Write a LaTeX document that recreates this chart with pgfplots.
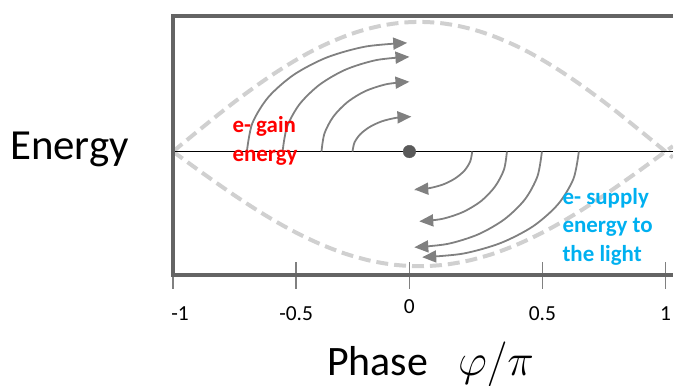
\RequirePackage{fix-cm}
\documentclass[border=0pt]{standalone}
\usepackage{pgfplots}
\pgfplotsset{compat=1.18}
\usetikzlibrary{arrows.meta}
\usepackage{fontspec}
\setmainfont{Carlito}
\definecolor{bordergray}{RGB}{100,100,100}
\definecolor{dashgray}{RGB}{208,208,208}
\definecolor{arrowgray}{RGB}{128,128,128}
\definecolor{dotgray}{RGB}{90,90,90}
\definecolor{lightblue}{RGB}{0,176,240}
\definecolor{pptred}{RGB}{255,0,0}
\begin{document}
\begin{tikzpicture}
\begin{axis}[
  at={(173.5pt,111pt)}, anchor=south west,
  scale only axis, width=501.5pt, height=260pt,
  xmin=-1, xmax=1.03036, ymin=-124, ymax=136,
  axis line style={draw=none},
  clip mode=individual,
  xtick={-1,-0.5,-0.04,0.5,1},
  xticklabels={\hspace*{14pt}-1,-0.5,\raisebox{7pt}{0},0.5,1},
  xtick pos=bottom, ytick=\empty,
  tick align=center, major tick length=27pt,
  xtick style={color=arrowgray, line width=1.3pt},
  xticklabel style={anchor=base, yshift=-32pt, font=\fontsize{21.5}{24}\selectfont},
  no marks,
]
% separatrix (upper)
\addplot[dashgray, line width=4pt, dash pattern=on 12pt off 6pt, smooth] coordinates {
(-1,0) (-0.95,10.2) (-0.9,20.3) (-0.85,30.3) (-0.8,40.2) (-0.75,49.8) (-0.7,59.0)
(-0.65,67.9) (-0.6,76.4) (-0.55,84.4) (-0.5,91.9) (-0.45,98.9) (-0.4,105.2)
(-0.35,110.8) (-0.3,115.8) (-0.25,120.1) (-0.2,123.6) (-0.15,126.4) (-0.1,128.4)
(-0.05,129.6) (0,130) (0.05,129.6) (0.1,128.4) (0.15,126.4) (0.2,123.6) (0.25,120.1)
(0.3,115.8) (0.35,110.8) (0.4,105.2) (0.45,98.9) (0.5,91.9) (0.55,84.4) (0.6,76.4)
(0.65,67.9) (0.7,59.0) (0.75,49.8) (0.8,40.2) (0.85,30.3) (0.9,20.3) (0.95,10.2)
(1,0) (1.03,-6.1)};
% separatrix (lower)
\addplot[dashgray, line width=4pt, dash pattern=on 12pt off 6pt, smooth] coordinates {
(-1,0) (-0.95,-9.0) (-0.9,-18.0) (-0.85,-26.8) (-0.8,-35.5) (-0.75,-44.0) (-0.7,-52.2)
(-0.65,-60.1) (-0.6,-67.6) (-0.55,-74.7) (-0.5,-81.3) (-0.45,-87.4) (-0.4,-93.0)
(-0.35,-98.0) (-0.3,-102.5) (-0.25,-106.2) (-0.2,-109.4) (-0.15,-111.8) (-0.1,-113.6)
(-0.05,-114.6) (0,-115) (0.05,-114.6) (0.1,-113.6) (0.15,-111.8) (0.2,-109.4) (0.25,-106.2)
(0.3,-102.5) (0.35,-98.0) (0.4,-93.0) (0.45,-87.4) (0.5,-81.3) (0.55,-74.7) (0.6,-67.6)
(0.65,-60.1) (0.7,-52.2) (0.75,-44.0) (0.8,-35.5) (0.85,-26.8) (0.9,-18.0) (0.95,-9.0)
(1,0) (1.03,5.4)};
% centre line
\addplot[black, line width=1.8pt] coordinates {(-1,0) (1.03036,0)};
% upper arrows (gain)
\addplot[arrowgray, line width=1.8pt, smooth, -{Triangle[length=14pt,width=12pt]}] coordinates {
(-0.700,0) (-0.678,28.2) (-0.613,54.5) (-0.509,77.1) (-0.375,94.4) (-0.218,105.3) (-0.049,109)};
\addplot[arrowgray, line width=1.8pt, smooth, -{Triangle[length=14pt,width=12pt]}] coordinates {
(-0.555,0) (-0.537,24.6) (-0.486,47.5) (-0.404,67.2) (-0.298,82.3) (-0.173,91.8) (-0.040,95)};
\addplot[arrowgray, line width=1.8pt, smooth, -{Triangle[length=14pt,width=12pt]}] coordinates {
(-0.397,0) (-0.385,18.1) (-0.349,35) (-0.292,49.5) (-0.219,60.6) (-0.132,67.6) (-0.040,70)};
\addplot[arrowgray, line width=1.8pt, smooth, -{Triangle[length=14pt,width=12pt]}] coordinates {
(-0.271,0) (-0.263,9.1) (-0.239,17.5) (-0.201,24.7) (-0.152,30.3) (-0.094,33.8) (-0.032,35)};
% lower arrows (supply)
\addplot[arrowgray, line width=1.8pt, smooth, -{Triangle[length=14pt,width=12pt]}] coordinates {
(0.215,0) (0.207,-9.8) (0.184,-19) (0.146,-26.9) (0.098,-32.9) (0.041,-36.7) (-0.020,-38)};
\addplot[arrowgray, line width=1.8pt, smooth, -{Triangle[length=14pt,width=12pt]}] coordinates {
(0.356,0) (0.344,-18.1) (0.308,-35) (0.252,-49.5) (0.178,-60.6) (0.092,-67.6) (0.000,-70)};
\addplot[arrowgray, line width=1.8pt, smooth, -{Triangle[length=14pt,width=12pt]}] coordinates {
(0.498,0) (0.480,-24.8) (0.429,-48) (0.346,-67.9) (0.239,-83.1) (0.114,-92.7) (-0.020,-96)};
\addplot[arrowgray, line width=1.8pt, smooth, -{Triangle[length=14pt,width=12pt]}] coordinates {
(0.648,0) (0.626,-27.4) (0.563,-53) (0.462,-75) (0.330,-91.8) (0.177,-102.4) (0.012,-106)};
% electron
\addplot[only marks, mark=*, mark size=6.3pt, color=dotgray] coordinates {(-0.04,0)};
\coordinate (TR) at (axis cs:1.03036,136);
\coordinate (TL) at (axis cs:-1,136);
\coordinate (BL) at (axis cs:-1,-124);
\coordinate (BR) at (axis cs:1.03036,-124);
\end{axis}
\draw[bordergray, line width=4.6pt, line join=miter, line cap=butt] (TR) -- (TL) -- (BL) -- (BR);
\node[anchor=base west, inner sep=0pt, font=\fontsize{43}{50}\selectfont] at (10pt,227pt) {Energy};
\node[anchor=base west, inner sep=0pt, font=\fontsize{42}{50}\selectfont] at (328pt,10pt) {Phase\hspace{30pt}{\fontsize{45}{50}\selectfont$\varphi/\pi$}};
\node[anchor=base west, inner sep=0pt, text=pptred, font=\fontsize{23}{28}\selectfont\bfseries] at (233pt,254pt) {e- gain};
\node[anchor=base west, inner sep=0pt, text=pptred, font=\fontsize{23}{28}\selectfont\bfseries] at (233pt,225pt) {energy};
\node[anchor=base west, inner sep=0pt, text=lightblue, font=\fontsize{23}{28}\selectfont\bfseries] at (564pt,182pt) {e- supply};
\node[anchor=base west, inner sep=0pt, text=lightblue, font=\fontsize{23}{28}\selectfont\bfseries] at (564pt,154pt) {energy to};
\node[anchor=base west, inner sep=0pt, text=lightblue, font=\fontsize{23}{28}\selectfont\bfseries] at (564pt,125pt) {the light};
\pgfresetboundingbox
\useasboundingbox (0pt,0pt) rectangle (676pt,387pt);
\end{tikzpicture}
\end{document}
